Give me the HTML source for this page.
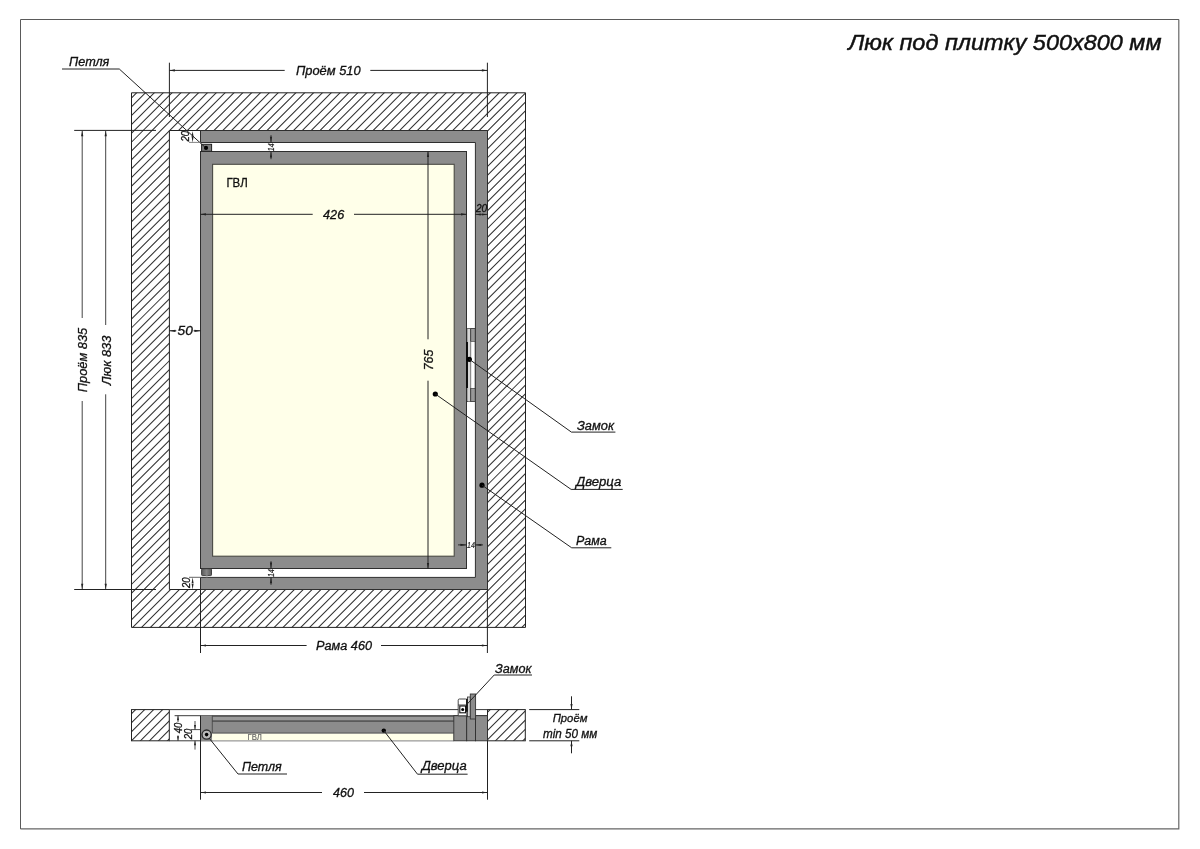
<!DOCTYPE html>
<html lang="ru">
<head>
<meta charset="utf-8">
<title>Люк под плитку 500x800 мм</title>
<style>
html,body{margin:0;padding:0;background:#fff;}
body{width:1200px;height:849px;overflow:hidden;font-family:"Liberation Sans",sans-serif;}
svg{display:block;will-change:transform;}
svg text{font-family:"Liberation Sans",sans-serif;}
</style>
</head>
<body>
<svg width="1200" height="849" viewBox="0 0 1200 849">
<rect x="0" y="0" width="1200" height="849" fill="#ffffff"/>

<path d="M20.5 829V19.5H1179" fill="none" stroke="#5a5a5a" stroke-width="1"/>
<path d="M1178.8 19.5V828.9H20.5" fill="none" stroke="#666" stroke-width="1.2"/>
<text x="848.2" y="50" font-size="21.5" font-style="italic" textLength="313.3" lengthAdjust="spacingAndGlyphs" text-anchor="start" fill="#111" stroke="#111" stroke-width="0.45" >Люк под плитку 500х800 мм</text>
<clipPath id="wallclip"><path clip-rule="evenodd" d="M131.5 92.8H525.5V627.4H131.5Z M169.4 130.5V589.5H487.5V130.5Z"/></clipPath>
<path d="M130.50 90.06L526.50 -305.94M130.50 98.90L526.50 -297.10M130.50 107.75L526.50 -288.25M130.50 116.59L526.50 -279.41M130.50 125.44L526.50 -270.56M130.50 134.28L526.50 -261.72M130.50 143.13L526.50 -252.87M130.50 151.97L526.50 -244.03M130.50 160.82L526.50 -235.18M130.50 169.66L526.50 -226.34M130.50 178.51L526.50 -217.49M130.50 187.35L526.50 -208.65M130.50 196.20L526.50 -199.80M130.50 205.04L526.50 -190.96M130.50 213.89L526.50 -182.11M130.50 222.73L526.50 -173.27M130.50 231.58L526.50 -164.42M130.50 240.42L526.50 -155.58M130.50 249.27L526.50 -146.73M130.50 258.11L526.50 -137.89M130.50 266.96L526.50 -129.04M130.50 275.80L526.50 -120.20M130.50 284.65L526.50 -111.35M130.50 293.49L526.50 -102.51M130.50 302.34L526.50 -93.66M130.50 311.18L526.50 -84.82M130.50 320.03L526.50 -75.97M130.50 328.87L526.50 -67.13M130.50 337.72L526.50 -58.28M130.50 346.56L526.50 -49.44M130.50 355.41L526.50 -40.59M130.50 364.25L526.50 -31.75M130.50 373.10L526.50 -22.90M130.50 381.94L526.50 -14.06M130.50 390.79L526.50 -5.21M130.50 399.63L526.50 3.63M130.50 408.48L526.50 12.48M130.50 417.32L526.50 21.32M130.50 426.17L526.50 30.17M130.50 435.01L526.50 39.01M130.50 443.86L526.50 47.86M130.50 452.70L526.50 56.70M130.50 461.55L526.50 65.55M130.50 470.39L526.50 74.39M130.50 479.24L526.50 83.24M130.50 488.08L526.50 92.08M130.50 496.93L526.50 100.93M130.50 505.77L526.50 109.77M130.50 514.62L526.50 118.62M130.50 523.46L526.50 127.46M130.50 532.31L526.50 136.31M130.50 541.15L526.50 145.15M130.50 550.00L526.50 154.00M130.50 558.84L526.50 162.84M130.50 567.69L526.50 171.69M130.50 576.53L526.50 180.53M130.50 585.38L526.50 189.38M130.50 594.22L526.50 198.22M130.50 603.07L526.50 207.07M130.50 611.91L526.50 215.91M130.50 620.76L526.50 224.76M130.50 629.60L526.50 233.60M130.50 638.45L526.50 242.45M130.50 647.29L526.50 251.29M130.50 656.14L526.50 260.14M130.50 664.98L526.50 268.98M130.50 673.83L526.50 277.83M130.50 682.67L526.50 286.67M130.50 691.52L526.50 295.52M130.50 700.36L526.50 304.36M130.50 709.21L526.50 313.21M130.50 718.05L526.50 322.05M130.50 726.90L526.50 330.90M130.50 735.74L526.50 339.74M130.50 744.59L526.50 348.59M130.50 753.43L526.50 357.43M130.50 762.28L526.50 366.28M130.50 771.12L526.50 375.12M130.50 779.97L526.50 383.97M130.50 788.81L526.50 392.81M130.50 797.66L526.50 401.66M130.50 806.50L526.50 410.50M130.50 815.35L526.50 419.35M130.50 824.19L526.50 428.19M130.50 833.04L526.50 437.04M130.50 841.88L526.50 445.88M130.50 850.73L526.50 454.73M130.50 859.57L526.50 463.57M130.50 868.42L526.50 472.42M130.50 877.26L526.50 481.26M130.50 886.11L526.50 490.11M130.50 894.95L526.50 498.95M130.50 903.80L526.50 507.80M130.50 912.64L526.50 516.64M130.50 921.49L526.50 525.49M130.50 930.33L526.50 534.33M130.50 939.18L526.50 543.18M130.50 948.02L526.50 552.02M130.50 956.87L526.50 560.87M130.50 965.71L526.50 569.71M130.50 974.56L526.50 578.56M130.50 983.40L526.50 587.40M130.50 992.25L526.50 596.25M130.50 1001.09L526.50 605.09M130.50 1009.94L526.50 613.94M130.50 1018.78L526.50 622.78M130.50 1027.63L526.50 631.63" clip-path="url(#wallclip)" stroke="#303030" stroke-width="1.05" fill="none"/>
<path d="M131.5 92.8H525.5V627.4H131.5Z M169.4 130.5V589.5H487.5V130.5Z" fill="none" stroke="#222" stroke-width="1.0"/>
<path d="M200.5 130.5H487.5V589.5H200.5V577.4H475.4V142.5H200.5Z" fill="#8c8c8c" stroke="#2e2e2e" stroke-width="1"/>
<rect x="200.5" y="151.5" width="266.0" height="417.0" fill="#8c8c8c" stroke="#2e2e2e" stroke-width="1" />
<rect x="212.6" y="164.3" width="241.6" height="391.9" fill="#ffffe9" stroke="#4a4a44" stroke-width="1.1" />
<rect x="201.6" y="144.3" width="10.0" height="7.0" fill="#7c7c7c" stroke="#222" stroke-width="1" />
<circle cx="206" cy="147.9" r="2.1" fill="#000"/>
<linearGradient id="hg" x1="0" x2="1" y1="0" y2="0"><stop offset="0" stop-color="#5a5a5a"/><stop offset="0.5" stop-color="#858585"/><stop offset="1" stop-color="#5a5a5a"/></linearGradient>
<rect x="201.6" y="568.7" width="9.9" height="6.9" rx="0.8" fill="url(#hg)" stroke="#333" stroke-width="0.9"/>
<rect x="205.7" y="575.6" width="2.1" height="1.6" fill="#bbb" stroke="none" stroke-width="0" />
<rect x="467.2" y="328.7" width="7.9" height="72.9" fill="#fff" stroke="#2e2e2e" stroke-width="0.8" />
<rect x="467.6" y="329" width="3.1" height="72.3" fill="#d6d6d6" stroke="none" stroke-width="0" />
<rect x="470.7" y="328.7" width="4.4" height="12.6" fill="#999" stroke="#2e2e2e" stroke-width="0.6" />
<rect x="470.7" y="388.3" width="4.4" height="13.3" fill="#999" stroke="#2e2e2e" stroke-width="0.6" />
<line x1="470.7" y1="328.7" x2="470.7" y2="401.6" stroke="#2e2e2e" stroke-width="0.6" />
<line x1="467.1" y1="342" x2="467.1" y2="388" stroke="#000" stroke-width="1.6" />
<text x="226.4" y="186.7" font-size="12.6" textLength="21.3" lengthAdjust="spacingAndGlyphs" text-anchor="start" fill="#111" stroke="#111" stroke-width="0.3" >ГВЛ</text>
<line x1="169.4" y1="62.7" x2="169.4" y2="117" stroke="#222" stroke-width="1.0" />
<line x1="487.4" y1="62.7" x2="487.4" y2="117" stroke="#222" stroke-width="1.0" />
<line x1="169.4" y1="70.4" x2="284.7" y2="70.4" stroke="#222" stroke-width="1.0" />
<line x1="370.3" y1="70.4" x2="487.4" y2="70.4" stroke="#222" stroke-width="1.0" />
<polygon points="169.40,70.40 174.90,69.30 174.90,71.50" fill="#222"/>
<polygon points="487.40,70.40 481.90,69.30 481.90,71.50" fill="#222"/>
<text x="296" y="75" font-size="12.5" font-style="italic" textLength="64.6" lengthAdjust="spacingAndGlyphs" text-anchor="start" fill="#111" stroke="#111" stroke-width="0.3" >Проём 510</text>
<text x="69.1" y="66.2" font-size="12.3" font-style="italic" textLength="40.2" lengthAdjust="spacingAndGlyphs" text-anchor="start" fill="#111" stroke="#111" stroke-width="0.3" >Петля</text>
<polyline points="62,69 119.3,69 205,147.2" fill="none" stroke="#222" stroke-width="1"/>
<line x1="74.2" y1="130.4" x2="156" y2="130.4" stroke="#222" stroke-width="1.0" />
<line x1="74.2" y1="589.5" x2="156" y2="589.5" stroke="#222" stroke-width="1.0" />
<line x1="82.2" y1="131" x2="82.2" y2="318" stroke="#444" stroke-width="1.0" />
<line x1="82.2" y1="401" x2="82.2" y2="589" stroke="#444" stroke-width="1.0" />
<polygon points="82.20,130.80 81.10,136.30 83.30,136.30" fill="#222"/>
<polygon points="82.20,589.20 81.10,583.70 83.30,583.70" fill="#222"/>
<line x1="105.7" y1="131" x2="105.7" y2="325" stroke="#444" stroke-width="1.0" />
<line x1="105.7" y1="394.3" x2="105.7" y2="589" stroke="#444" stroke-width="1.0" />
<polygon points="105.70,130.80 104.60,136.30 106.80,136.30" fill="#222"/>
<polygon points="105.70,589.20 104.60,583.70 106.80,583.70" fill="#222"/>
<text x="87.2" y="392.2" font-size="12.3" font-style="italic" textLength="64.4" lengthAdjust="spacingAndGlyphs" transform="rotate(-90 87.2 392.2)" text-anchor="start" fill="#111" stroke="#111" stroke-width="0.3" >Проём 835</text>
<text x="110.6" y="385.3" font-size="12.3" font-style="italic" textLength="49.8" lengthAdjust="spacingAndGlyphs" transform="rotate(-90 110.6 385.3)" text-anchor="start" fill="#111" stroke="#111" stroke-width="0.3" >Люк 833</text>
<line x1="169.4" y1="330.8" x2="176.3" y2="330.8" stroke="#222" stroke-width="1.0" />
<line x1="193.6" y1="330.8" x2="200.5" y2="330.8" stroke="#222" stroke-width="1.0" />
<polygon points="169.40,330.80 175.40,329.70 175.40,331.90" fill="#222"/>
<polygon points="200.50,330.80 194.50,329.70 194.50,331.90" fill="#222"/>
<text x="177.5" y="335.3" font-size="12.5" font-style="italic" textLength="15.3" lengthAdjust="spacingAndGlyphs" text-anchor="start" fill="#111" stroke="#111" stroke-width="0.3" >50</text>
<line x1="200.5" y1="214.3" x2="312.7" y2="214.3" stroke="#222" stroke-width="1.0" />
<line x1="354" y1="214.3" x2="466.5" y2="214.3" stroke="#222" stroke-width="1.0" />
<polygon points="200.50,214.30 206.00,213.20 206.00,215.40" fill="#222"/>
<polygon points="466.50,214.30 461.00,213.20 461.00,215.40" fill="#222"/>
<text x="323" y="218.5" font-size="12.5" font-style="italic" textLength="21.2" lengthAdjust="spacingAndGlyphs" text-anchor="start" fill="#111" stroke="#111" stroke-width="0.3" >426</text>
<line x1="428" y1="151.6" x2="428" y2="339.3" stroke="#222" stroke-width="1.0" />
<line x1="428" y1="380.7" x2="428" y2="568.5" stroke="#222" stroke-width="1.0" />
<polygon points="428.00,151.60 426.90,157.10 429.10,157.10" fill="#222"/>
<polygon points="428.00,568.50 426.90,563.00 429.10,563.00" fill="#222"/>
<text x="433.2" y="370.3" font-size="12.5" font-style="italic" textLength="20.6" lengthAdjust="spacingAndGlyphs" transform="rotate(-90 433.2 370.3)" text-anchor="start" fill="#111" stroke="#111" stroke-width="0.3" >765</text>
<text x="476" y="211.8" font-size="10.3" font-style="italic" textLength="11.2" lengthAdjust="spacingAndGlyphs" text-anchor="start" fill="#111" stroke="#111" stroke-width="0.3" >20</text>
<line x1="475.3" y1="214.4" x2="487.4" y2="214.4" stroke="#222" stroke-width="0.8" />
<polygon points="475.40,214.40 480.90,213.40 480.90,215.40" fill="#222"/>
<polygon points="487.30,214.40 481.80,213.40 481.80,215.40" fill="#222"/>
<line x1="271" y1="135.2" x2="271" y2="142.6" stroke="#222" stroke-width="0.9" />
<line x1="271" y1="151.6" x2="271" y2="159.2" stroke="#222" stroke-width="0.9" />
<polygon points="271.00,142.70 269.90,136.70 272.10,136.70" fill="#222"/>
<polygon points="271.00,151.50 269.90,157.50 272.10,157.50" fill="#222"/>
<text x="274.2" y="151.2" font-size="8.6" font-style="italic" textLength="7.8" lengthAdjust="spacingAndGlyphs" transform="rotate(-90 274.2 151.2)" text-anchor="start" fill="#222" stroke="#222" stroke-width="0.2" >14</text>
<line x1="271" y1="561.2" x2="271" y2="568.5" stroke="#222" stroke-width="0.9" />
<line x1="271" y1="577.4" x2="271" y2="584.8" stroke="#222" stroke-width="0.9" />
<polygon points="271.00,568.60 269.90,562.60 272.10,562.60" fill="#222"/>
<polygon points="271.00,577.30 269.90,583.30 272.10,583.30" fill="#222"/>
<text x="274.2" y="577" font-size="8.6" font-style="italic" textLength="7.8" lengthAdjust="spacingAndGlyphs" transform="rotate(-90 274.2 577)" text-anchor="start" fill="#222" stroke="#222" stroke-width="0.2" >14</text>
<line x1="458" y1="544.9" x2="466.5" y2="544.9" stroke="#222" stroke-width="0.9" />
<line x1="475.3" y1="544.9" x2="483" y2="544.9" stroke="#222" stroke-width="0.9" />
<polygon points="466.40,544.90 460.40,543.80 460.40,546.00" fill="#222"/>
<polygon points="475.40,544.90 481.40,543.80 481.40,546.00" fill="#222"/>
<text x="467.1" y="548" font-size="8.6" font-style="italic" textLength="7.8" lengthAdjust="spacingAndGlyphs" text-anchor="start" fill="#222" stroke="#222" stroke-width="0.2" >14</text>
<text x="188.5" y="141.5" font-size="10.3" font-style="italic" textLength="10.6" lengthAdjust="spacingAndGlyphs" transform="rotate(-90 188.5 141.5)" text-anchor="start" fill="#111" stroke="#111" stroke-width="0.3" >20</text>
<line x1="189" y1="142.4" x2="200.5" y2="142.4" stroke="#777" stroke-width="0.9" />
<polygon points="192.60,130.90 191.60,136.70 193.60,136.70" fill="#222"/>
<polygon points="192.60,142.40 191.60,136.60 193.60,136.60" fill="#222"/>
<text x="190" y="588" font-size="10.3" font-style="italic" textLength="10.6" lengthAdjust="spacingAndGlyphs" transform="rotate(-90 190 588)" text-anchor="start" fill="#111" stroke="#111" stroke-width="0.3" >20</text>
<line x1="189" y1="577.3" x2="200.5" y2="577.3" stroke="#555" stroke-width="0.9" />
<polygon points="192.60,577.40 191.60,583.20 193.60,583.20" fill="#222"/>
<polygon points="192.60,589.50 191.60,583.70 193.60,583.70" fill="#222"/>
<line x1="200.5" y1="589.6" x2="200.5" y2="653" stroke="#222" stroke-width="1.0" />
<line x1="487.4" y1="589.6" x2="487.4" y2="653" stroke="#222" stroke-width="1.0" />
<line x1="200.5" y1="645.5" x2="306.6" y2="645.5" stroke="#222" stroke-width="1.0" />
<line x1="381" y1="645.5" x2="487.4" y2="645.5" stroke="#222" stroke-width="1.0" />
<polygon points="200.50,645.50 206.00,644.40 206.00,646.60" fill="#222"/>
<polygon points="487.40,645.50 481.90,644.40 481.90,646.60" fill="#222"/>
<text x="316" y="650" font-size="12.5" font-style="italic" textLength="56" lengthAdjust="spacingAndGlyphs" text-anchor="start" fill="#111" stroke="#111" stroke-width="0.3" >Рама 460</text>
<circle cx="469.3" cy="359.3" r="2.6" fill="#000"/>
<circle cx="435.3" cy="394" r="2.6" fill="#000"/>
<circle cx="482" cy="485.2" r="2.6" fill="#000"/>
<polyline points="469.3,359.3 571.4,432.1 615.4,432.1" fill="none" stroke="#222" stroke-width="1"/>
<polyline points="435.3,394 571.1,489.4 622.7,489.4" fill="none" stroke="#222" stroke-width="1"/>
<polyline points="482,485.2 571.7,547.8 611.3,547.8" fill="none" stroke="#222" stroke-width="1"/>
<text x="576.9" y="429.5" font-size="12.5" font-style="italic" textLength="37.1" lengthAdjust="spacingAndGlyphs" text-anchor="start" fill="#111" stroke="#111" stroke-width="0.3" >Замок</text>
<text x="576" y="486" font-size="12.5" font-style="italic" textLength="45.3" lengthAdjust="spacingAndGlyphs" text-anchor="start" fill="#111" stroke="#111" stroke-width="0.3" >Дверца</text>
<text x="576" y="545.1" font-size="12.5" font-style="italic" textLength="30.7" lengthAdjust="spacingAndGlyphs" text-anchor="start" fill="#111" stroke="#111" stroke-width="0.3" >Рама</text>
<clipPath id="secL"><rect x="131.5" y="709.6" width="37.8" height="31.199999999999932"/></clipPath>
<clipPath id="secR"><rect x="487.5" y="709.6" width="37.8" height="31.199999999999932"/></clipPath>
<path d="M130.50 705.75L170.30 665.95M130.50 714.75L170.30 674.95M130.50 723.75L170.30 683.95M130.50 732.75L170.30 692.95M130.50 741.75L170.30 701.95M130.50 750.75L170.30 710.95M130.50 759.75L170.30 719.95M130.50 768.75L170.30 728.95M130.50 777.75L170.30 737.95M130.50 786.75L170.30 746.95" clip-path="url(#secL)" stroke="#303030" stroke-width="1.05" fill="none"/>
<path d="M486.50 704.14L526.30 664.34M486.50 713.27L526.30 673.47M486.50 722.40L526.30 682.60M486.50 731.53L526.30 691.73M486.50 740.66L526.30 700.86M486.50 749.79L526.30 709.99M486.50 758.92L526.30 719.12M486.50 768.05L526.30 728.25M486.50 777.18L526.30 737.38M486.50 786.31L526.30 746.51" clip-path="url(#secR)" stroke="#303030" stroke-width="1.05" fill="none"/>
<rect x="131.5" y="709.6" width="37.8" height="31.2" fill="none" stroke="#222" stroke-width="1.0" />
<rect x="487.5" y="709.6" width="37.8" height="31.2" fill="none" stroke="#222" stroke-width="1.0" />
<line x1="169.3" y1="709.6" x2="487.5" y2="709.6" stroke="#3a3a3a" stroke-width="1" />
<line x1="174.6" y1="715.7" x2="487.5" y2="715.7" stroke="#3a3a3a" stroke-width="1" />
<line x1="169.3" y1="740.8" x2="212.5" y2="740.8" stroke="#3a3a3a" stroke-width="1" />
<rect x="200.5" y="715.7" width="11.7" height="25.1" fill="#8c8c8c" stroke="none" stroke-width="0" />
<rect x="212.2" y="715.7" width="241.6" height="17.5" fill="#8c8c8c" stroke="none" stroke-width="0" />
<rect x="212.2" y="716.9" width="241.6" height="3.3" fill="#9a9a9a" stroke="none" stroke-width="0" />
<line x1="212.2" y1="716.2" x2="453.8" y2="716.2" stroke="#505050" stroke-width="1.3" />
<line x1="212.2" y1="721.1" x2="453.8" y2="721.1" stroke="#5a5a5a" stroke-width="1.6" />
<rect x="212.2" y="733.4" width="241.6" height="6.9" fill="#ffffe9" stroke="none" stroke-width="0" />
<line x1="212.2" y1="733.1" x2="453.8" y2="733.1" stroke="#444" stroke-width="0.9" />
<line x1="212.2" y1="740.9" x2="453.8" y2="740.9" stroke="#808080" stroke-width="1" />
<line x1="212.3" y1="715.7" x2="212.3" y2="733" stroke="#444" stroke-width="0.9" />
<text x="247.5" y="740.4" font-size="9" textLength="14.4" lengthAdjust="spacingAndGlyphs" text-anchor="start" fill="#666" stroke="#666" stroke-width="0.15" >ГВЛ</text>
<rect x="453.8" y="715.7" width="12.9" height="25.1" fill="#8c8c8c" stroke="#2e2e2e" stroke-width="0.9" />
<rect x="466.7" y="715.7" width="8.8" height="25.1" fill="#8c8c8c" stroke="#2e2e2e" stroke-width="0.9" />
<rect x="475.5" y="715.7" width="12.0" height="25.1" fill="#8c8c8c" stroke="#2e2e2e" stroke-width="0.9" />
<circle cx="206.6" cy="734.6" r="4.6" fill="#b9b9b9" stroke="#2a2a2a" stroke-width="1.3"/>
<circle cx="206.6" cy="734.6" r="1.8" fill="#000"/>
<path d="M458.2 715.8V700.2Q458.2 699 459.4 699H465.6Q466.8 699 466.8 700.2V715.8Z" fill="#fff" stroke="#333" stroke-width="0.9"/>
<line x1="458.2" y1="705" x2="466.8" y2="705" stroke="#333" stroke-width="0.9" />
<rect x="459.8" y="706" width="5.8" height="6.8" fill="#fff" stroke="#111" stroke-width="1.1" />
<circle cx="462.7" cy="709.5" r="1.5" fill="#000"/>
<rect x="467.5" y="697" width="2.8" height="19.7" fill="#d8d8d8" stroke="#333" stroke-width="0.8" />
<line x1="466.9" y1="698.7" x2="466.9" y2="711.8" stroke="#000" stroke-width="1.4" />
<rect x="470.3" y="694" width="5.3" height="25" fill="#8c8c8c" stroke="#333" stroke-width="0.9" />
<text x="495" y="672.5" font-size="12.5" font-style="italic" textLength="36.5" lengthAdjust="spacingAndGlyphs" text-anchor="start" fill="#111" stroke="#111" stroke-width="0.3" >Замок</text>
<polyline points="532,675 494.2,675 466.5,704.8" fill="none" stroke="#222" stroke-width="1"/>
<text x="241.9" y="770.5" font-size="12.5" font-style="italic" textLength="39.7" lengthAdjust="spacingAndGlyphs" text-anchor="start" fill="#111" stroke="#111" stroke-width="0.3" >Петля</text>
<polyline points="209,738 238,774 287,774" fill="none" stroke="#222" stroke-width="1"/>
<circle cx="383.8" cy="730.6" r="2.2" fill="#000"/>
<text x="421.7" y="770.4" font-size="12.5" font-style="italic" textLength="45" lengthAdjust="spacingAndGlyphs" text-anchor="start" fill="#111" stroke="#111" stroke-width="0.3" >Дверца</text>
<polyline points="383.8,730.6 417.5,774.2 467.6,774.2" fill="none" stroke="#222" stroke-width="1"/>
<line x1="200.5" y1="715.7" x2="200.5" y2="799.7" stroke="#222" stroke-width="1.0" />
<line x1="487.5" y1="740.8" x2="487.5" y2="799.7" stroke="#222" stroke-width="1.0" />
<line x1="200.5" y1="792.5" x2="322" y2="792.5" stroke="#222" stroke-width="1.0" />
<line x1="364" y1="792.5" x2="487.5" y2="792.5" stroke="#222" stroke-width="1.0" />
<polygon points="200.50,792.50 206.00,791.40 206.00,793.60" fill="#222"/>
<polygon points="487.50,792.50 482.00,791.40 482.00,793.60" fill="#222"/>
<text x="333" y="797" font-size="12.5" font-style="italic" textLength="21" lengthAdjust="spacingAndGlyphs" text-anchor="start" fill="#111" stroke="#111" stroke-width="0.3" >460</text>
<line x1="178" y1="715.7" x2="178" y2="722" stroke="#222" stroke-width="0.8" />
<line x1="178" y1="735.4" x2="178" y2="740.8" stroke="#222" stroke-width="0.8" />
<polygon points="178.00,715.70 177.00,720.20 179.00,720.20" fill="#222"/>
<polygon points="178.00,740.80 177.00,736.30 179.00,736.30" fill="#222"/>
<text x="181.7" y="733.3" font-size="10.3" font-style="italic" textLength="10.6" lengthAdjust="spacingAndGlyphs" transform="rotate(-90 181.7 733.3)" text-anchor="start" fill="#111" stroke="#111" stroke-width="0.3" >40</text>
<line x1="195" y1="721" x2="195" y2="729.6" stroke="#222" stroke-width="0.8" />
<line x1="195" y1="740.8" x2="195" y2="749.6" stroke="#222" stroke-width="0.8" />
<polygon points="195.00,729.60 194.00,725.10 196.00,725.10" fill="#222"/>
<polygon points="195.00,740.80 194.00,745.30 196.00,745.30" fill="#222"/>
<line x1="190.8" y1="729.6" x2="200.5" y2="729.6" stroke="#222" stroke-width="0.8" />
<text x="192" y="739.3" font-size="10.3" font-style="italic" textLength="10.6" lengthAdjust="spacingAndGlyphs" transform="rotate(-90 192 739.3)" text-anchor="start" fill="#111" stroke="#111" stroke-width="0.3" >20</text>
<line x1="529.2" y1="709.6" x2="579.3" y2="709.6" stroke="#222" stroke-width="1.0" />
<line x1="529.2" y1="740.8" x2="579.3" y2="740.8" stroke="#222" stroke-width="1.0" />
<line x1="571.5" y1="696.3" x2="571.5" y2="709.6" stroke="#222" stroke-width="1.0" />
<line x1="571.5" y1="740.8" x2="571.5" y2="753.3" stroke="#222" stroke-width="1.0" />
<polygon points="571.50,709.60 570.40,704.10 572.60,704.10" fill="#222"/>
<polygon points="571.50,740.80 570.40,746.30 572.60,746.30" fill="#222"/>
<text x="552.7" y="721.7" font-size="11.6" font-style="italic" textLength="34.7" lengthAdjust="spacingAndGlyphs" text-anchor="start" fill="#111" stroke="#111" stroke-width="0.3" >Проём</text>
<text x="543" y="737.6" font-size="12" font-style="italic" textLength="54.3" lengthAdjust="spacingAndGlyphs" text-anchor="start" fill="#111" stroke="#111" stroke-width="0.3" >min 50 мм</text>
</svg>
</body>
</html>
